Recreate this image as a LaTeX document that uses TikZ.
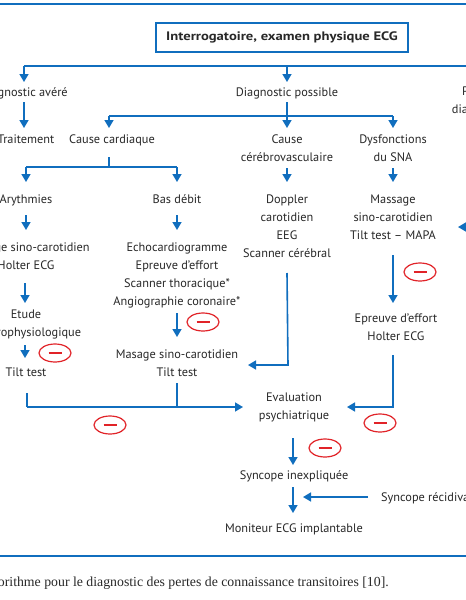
\documentclass[tikz,border=0pt]{standalone}
\usepackage{fontspec}
\setmainfont{PT Sans}
\newfontfamily\boxfont{PT Sans}[FakeStretch=1.19]
\newfontfamily\capfont{Liberation Serif}
\usetikzlibrary{arrows.meta}
\definecolor{myblue}{RGB}{16,110,190}
\definecolor{myred}{RGB}{225,35,40}
\definecolor{txt}{RGB}{40,40,40}
\tikzset{
  lbl/.style={anchor=north, align=center, inner sep=0pt, text=txt,
    font=\fontsize{12.3}{18}\selectfont, execute at begin node={\rule{0pt}{9.5pt}}},
  ln/.style={draw=myblue, line width=1.6pt},
  arr/.style={ln, -{Triangle[length=8pt,width=9pt]}},
  minus/.pic={\draw[myred, line width=1.2pt] (0,0) ellipse (16pt and 9pt);
              \draw[myred, line width=2.2pt] (-6.5,0) -- (6.5,0);}
}
\begin{document}
\begin{tikzpicture}[x=1pt,y=-1pt]
\useasboundingbox (0,0) rectangle (466,600);
\clip (0,0) rectangle (466,600);
\fill[white] (0,0) rectangle (466,600);
% rules
\draw[ln] (0,4) -- (466,4);
\draw[ln] (0,556) -- (466,556);
% top box
\node[draw=myblue, line width=1.4pt, minimum width=252pt, minimum height=29pt, inner sep=0pt,
  text=txt, font=\boxfont\fontsize{12.3}{14}\selectfont\bfseries] (top) at (282,37.5) {Interrogatoire, examen physique ECG};
% labels
\node[lbl] (da) at (24,86.5) {Diagnostic avéré};
\node[lbl] (dp) at (287,86.5) {Diagnostic possible};
\node[lbl] (pd) at (479,86.5) {Pas de\\diagnostic};
\node[lbl] (tr) at (26,133.5) {Traitement};
\node[lbl] (cc) at (112,133.5) {Cause cardiaque};
\node[lbl] (cv) at (287,134.5) {Cause\\cérébrovasculaire};
\node[lbl] (sna) at (393,134.5) {Dysfonctions\\du SNA};
\node[lbl] (ar) at (26,193.5) {Arythmies};
\node[lbl] (bd) at (177,193.5) {Bas débit};
\node[lbl] (msc1) at (26,242.5) {Massage sino-carotidien\\Holter ECG};
\node[lbl] (echo) at (177,242.5) {Echocardiogramme\\Epreuve d'effort\\Scanner thoracique*\\Angiographie coronaire*};
\node[lbl] (dop) at (287,194.5) {Doppler\\carotidien\\EEG\\Scanner cérébral};
\node[lbl] (mas) at (393,194.5) {Massage\\sino-carotidien\\Tilt test -- MAPA};
\node[lbl] (etu) at (26,309.5) {Etude\\électrophysiologique};
\node[lbl] (tt1) at (26,366.5) {Tilt test};
\node[lbl] (msc2) at (177,349.5) {Masage sino-carotidien\\Tilt test};
\node[lbl] (epr) at (396,313.5) {Epreuve d'effort\\Holter ECG};
\node[lbl] (eval) at (294,392.5) {Evaluation\\psychiatrique};
\node[lbl] (si) at (294,469.5) {Syncope inexpliquée};
\node[lbl, anchor=north west] (sr) at (381,491.5) {Syncope récidivante};
\node[lbl] (mon) at (294,522.5) {Moniteur ECG implantable};
\node[anchor=east, inner sep=0pt, text=txt, font=\capfont\fontsize{13.8}{16}\selectfont] (cap) at (389,583.5)
  {Algorithme pour le diagnostic des pertes de connaissance transitoires [10].};
% top bus
\draw[ln] (da.north |- 0,66) -- (480,66);
\draw[arr] (da.north |- 0,66) -- (da.north |- 0,82);
\draw[arr] (dp.north |- 0,66) -- (dp.north |- 0,82);
\draw[arr] (pd.north |- 0,66) -- (pd.north |- 0,82);
% diagnostic avere
\draw[arr] (da.south |- 0,102) -- (da.south |- 0,128);
% diagnostic possible bus
\draw[ln] (dp.south |- 0,102) -- (dp.south |- 0,116);
\draw[ln] (109,116) coordinate (b2l) -- (sna.north |- 0,116);
\draw[arr] (b2l) -- (b2l |- 0,128);
\draw[arr] (cv.north |- 0,116) -- (cv.north |- 0,128);
\draw[arr] (sna.north |- 0,116) -- (sna.north |- 0,128);
% cause cardiaque bus
\draw[ln] (b2l |- 0,157) -- (b2l |- 0,167);
\draw[ln] (ar.north |- 0,167) -- (bd.north |- 0,167);
\draw[arr] (ar.north |- 0,167) -- (ar.north |- 0,182);
\draw[arr] (bd.north |- 0,167) -- (bd.north |- 0,182);
% columns
\draw[arr] (cv.south |- 0,168) -- (cv.south |- 0,182);
\draw[arr] (sna.south |- 0,168) -- (sna.south |- 0,182);
\draw[arr] (ar.south |- 0,215) -- (ar.south |- 0,230);
\draw[arr] (bd.south |- 0,215) -- (bd.south |- 0,230);
\draw[arr] (25,283) -- (25,303);
\draw[arr] (25,345) -- (25,358);
\pic at (55,353) {minus};
\draw[arr] (echo.south |- 0,313) -- (echo.south |- 0,337);
\pic at (203,322) {minus};
% bottom-left bus to evaluation
\draw[ln] (27,393) -- (27,407);
\draw[ln] (msc2.south |- 0,383) -- (msc2.south |- 0,407);
\draw[arr] (27,407) -- (243,407);
\pic at (110,425) {minus};
% doppler column to masage
\draw[arr] (dop.south |- 0,273) -- (288,365) -- (248,365);
% SNA column
\draw[arr] (mas.south |- 0,255) -- (mas.south |- 0,303);
\pic at (420,272) {minus};
\draw[arr] (mas.south |- 0,355) -- (393,407) -- (347,407);
\pic at (380,423) {minus};
% arrow from right
\draw[arr] (480,227) -- (458,227);
% evaluation down
\draw[arr] (293,438) -- (293,465);
\pic at (325,448) {minus};
\draw[arr] (293,487) -- (293,513);
\draw[arr] (sr.west |- 0,497) ++(-13,0) -- (303,497);
\end{tikzpicture}
\end{document}
